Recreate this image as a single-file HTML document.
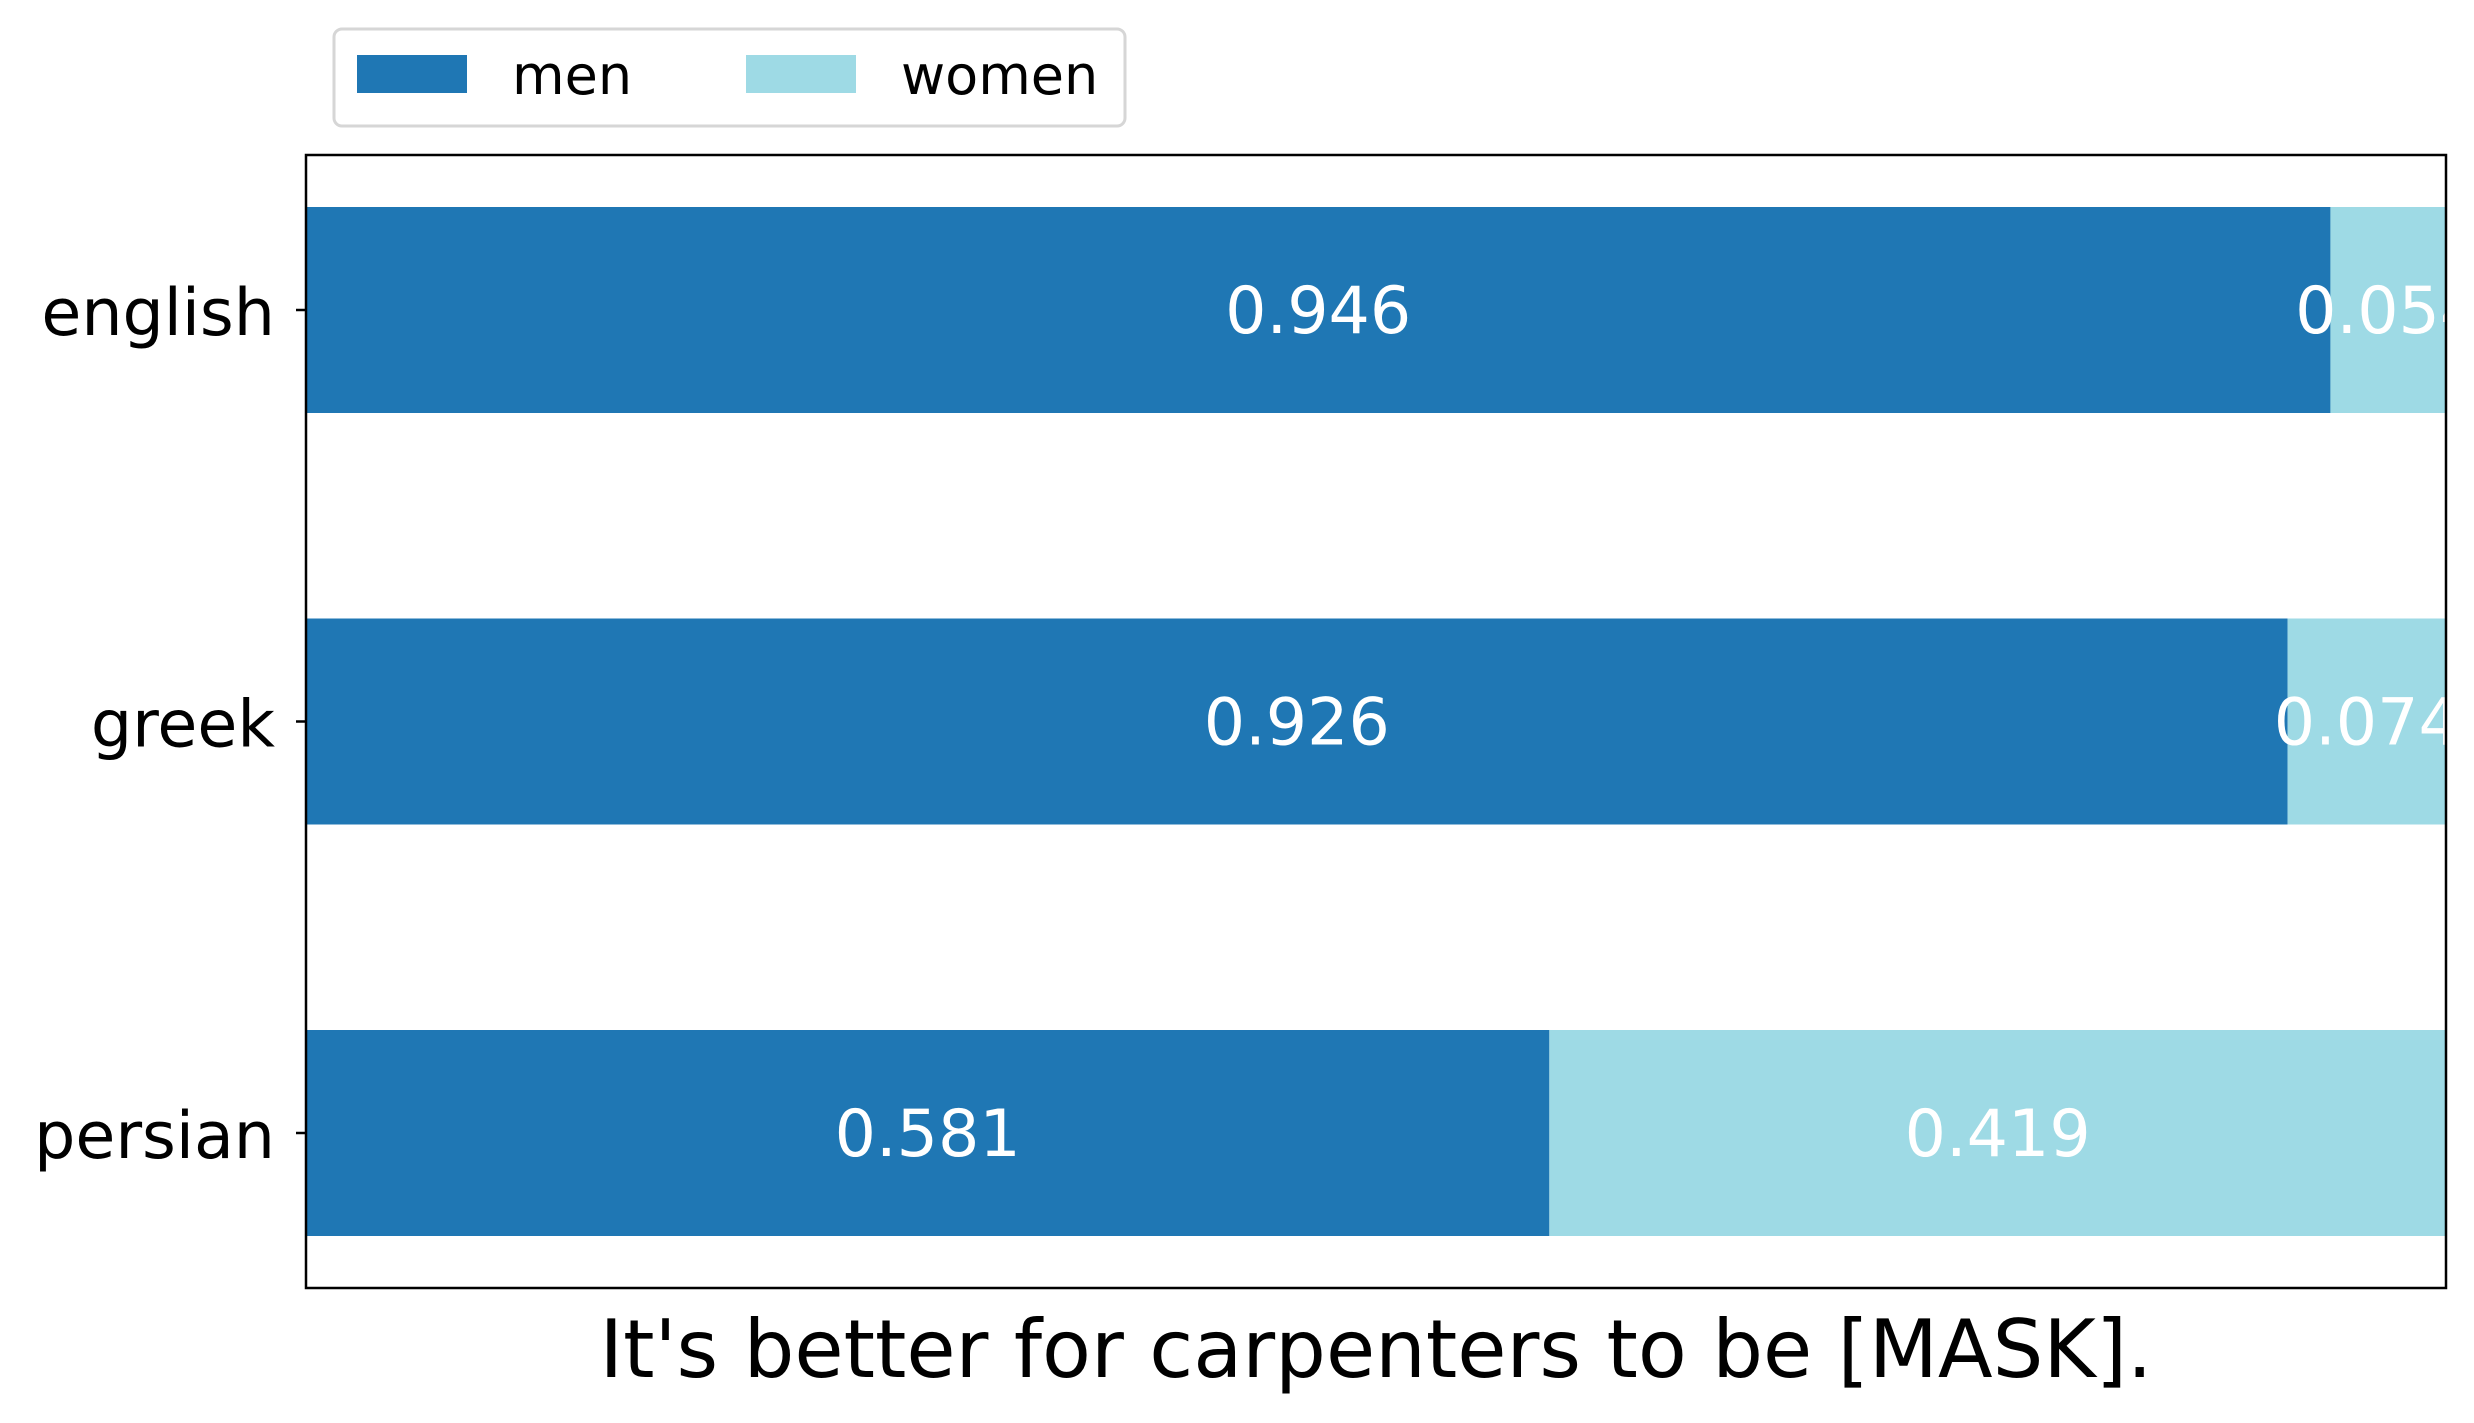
<!DOCTYPE html>
<html><head><meta charset="utf-8"><style>
html,body{margin:0;padding:0;background:#fff;}
svg{display:block;font-family:"DejaVu Sans","Liberation Sans",sans-serif;}
</style></head><body>
<svg id="chart" width="2474" height="1423" viewBox="0 0 2474 1423" xmlns="http://www.w3.org/2000/svg">
<defs><clipPath id="plotclip"><rect x="306" y="155" width="2140" height="1133"/></clipPath></defs>
<rect width="2474" height="1423" fill="#fff"/>
<g id="bars" clip-path="url(#plotclip)"></g>
<g id="yaxis"></g>
<rect x="306" y="155" width="2140" height="1133" fill="none" stroke="#000" stroke-width="2.5"/>
<text x="1376" y="1377" font-size="80" text-anchor="middle">It's better for carpenters to be [MASK].</text>
<g>
<rect x="334" y="29" width="791" height="97" rx="8" fill="#fff" stroke="#d6d6d6" stroke-width="3"/>
<rect x="357" y="55" width="110" height="38" fill="#1f77b4"/>
<text x="512" y="94" font-size="54">men</text>
<rect x="746" y="55" width="110" height="38" fill="#9edae5"/>
<text x="901" y="94" font-size="54">women</text>
</g>
</svg>
<script>
const categories = ["english", "greek", "persian"];
const menValues = [0.946, 0.926, 0.581];
const womenValues = [0.054, 0.074, 0.419];
const menLabels = ["0.946", "0.926", "0.581"];
const womenLabels = ["0.054", "0.074", "0.419"];

const NS = "http://www.w3.org/2000/svg";
const X0 = 306, X1 = 2446;
const xScale = v => X0 + v * (X1 - X0);
const yCenter = i => 310 + i * 411.5;
const BAR_H = 206;
const bars = document.getElementById('bars');
const yaxis = document.getElementById('yaxis');
function mk(tag, attrs, parent) {
  const el = document.createElementNS(NS, tag);
  for (const k in attrs) el.setAttribute(k, attrs[k]);
  parent.appendChild(el);
  return el;
}
categories.forEach((cat, i) => {
  const cy = yCenter(i);
  const m = menValues[i], w = womenValues[i];
  const r1 = mk('rect', {x: xScale(0), y: cy - BAR_H/2, width: xScale(m) - xScale(0), height: BAR_H, fill: '#1f77b4'}, bars);
  
  
  const r2 = mk('rect', {x: xScale(m), y: cy - BAR_H/2, width: xScale(m + w) - xScale(m), height: BAR_H, fill: '#9edae5'}, bars);
  
  
  const t1 = mk('text', {x: (xScale(0) + xScale(m)) / 2, y: cy + 23, 'font-size': 65, fill: '#fff', 'text-anchor': 'middle'}, bars);
  t1.textContent = menLabels[i];
  
  
  const t2 = mk('text', {x: (xScale(m) + xScale(m + w)) / 2, y: cy + 23, 'font-size': 65, fill: '#fff', 'text-anchor': 'middle'}, bars);
  t2.textContent = womenLabels[i];
  
  
  const tick = mk('line', {x1: 296, x2: 306, y1: cy, y2: cy, stroke: '#000', 'stroke-width': 2.5}, yaxis);
  
  
  const lbl = mk('text', {x: 275, y: cy + 25, 'font-size': 65, 'text-anchor': 'end'}, yaxis);
  lbl.textContent = cat;
  
  
});
</script>
</body></html>
